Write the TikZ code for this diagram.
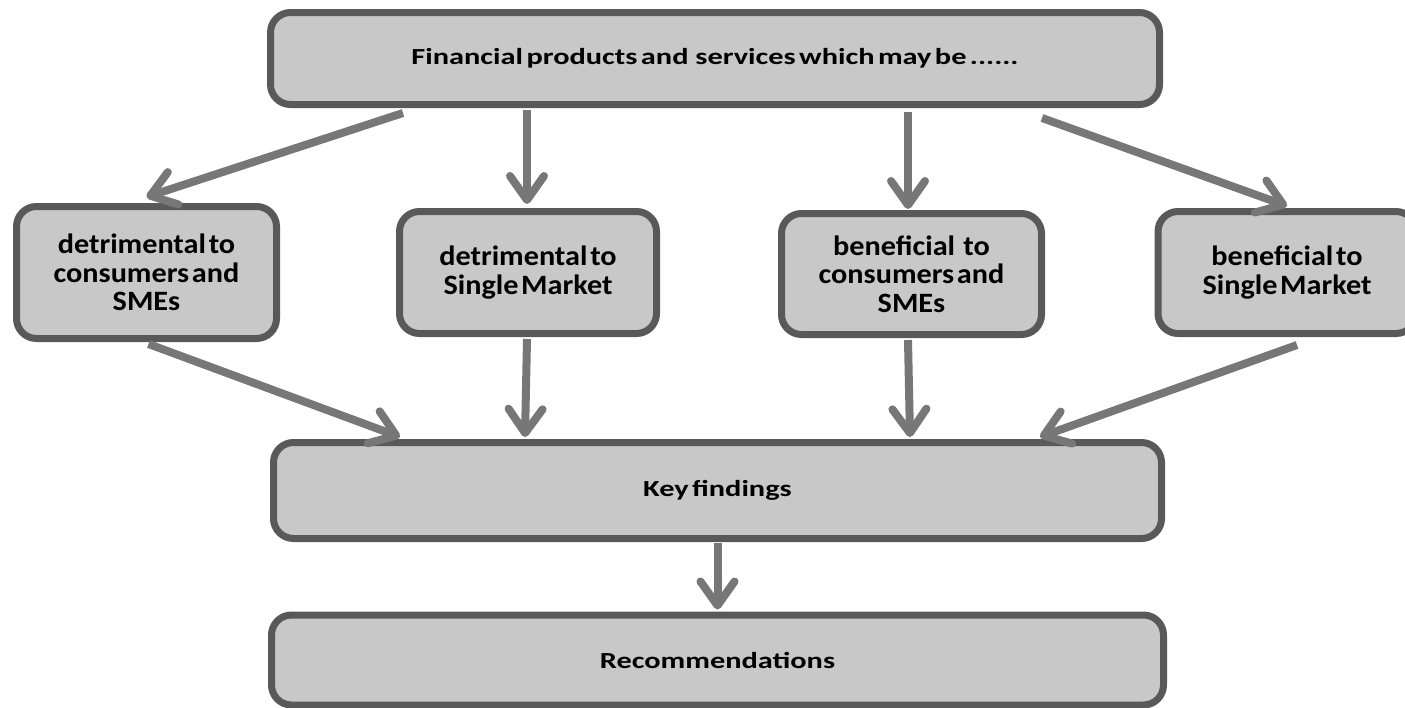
\documentclass[tikz,border=0pt]{standalone}
\usepackage{fontspec}
\setmainfont{Carlito}
\newfontfamily\headfont{Carlito}[FakeStretch=1.32,WordSpace=0.5]
\newfontfamily\boxfont{Carlito}[FakeStretch=1.08,WordSpace=0.4]
\usetikzlibrary{arrows.meta,calc}
\definecolor{boxfill}{HTML}{C8C8C8}
\definecolor{boxline}{HTML}{595959}
\definecolor{arrowgray}{HTML}{777777}
\begin{document}
\begin{tikzpicture}[x=1pt,y=-1pt,
  panel/.style={draw=boxline,fill=boxfill,line width=7pt,rounded corners=20pt,
    inner sep=0pt,align=center},
  wide/.style={panel,font=\headfont\bfseries\fontsize{23}{28}\selectfont},
  small/.style={panel,font=\boxfont\bfseries\fontsize{28}{28.5}\selectfont},
  flow/.style={draw=arrowgray,line width=8pt,
    -{Straight Barb[round,length=24pt,width=34pt]}}]
\useasboundingbox (0,0) rectangle (1405,707);

% boxes
\node[wide,minimum width=889pt,minimum height=92pt] (top) at (715,58.5)
  {Financial products and~ services which may be ......};
\node[small,minimum width=260pt,minimum height=132pt] (b1) at (146.5,272.5)
  {detrimental to\\consumers and\\SMEs};
\node[small,minimum width=257pt,minimum height=122pt] (b2) at (528,272.5)
  {detrimental to\\Single Market};
\node[small,minimum width=260pt,minimum height=121pt] (b3) at (911.5,274)
  {beneficial~~ to\\consumers and\\SMEs};
\node[small,minimum width=258pt,minimum height=122pt] (b4) at (1287,272.5)
  {beneficial to\\Single Market};
\node[wide,minimum width=888pt,minimum height=96pt] (key) at (717.5,490.5)
  {Key findings};
\node[wide,minimum width=892pt,minimum height=90pt] (rec) at (717.5,660)
  {Recommendations};

% connectors from the top box
\draw[flow] ([xshift=136pt,yshift=-5pt]top.south west) -- ([xshift=0pt,yshift=6pt]b1.north);
\draw[flow] ([xshift=260pt,yshift=-2pt]top.south west) -- ([xshift=-1pt,yshift=4pt]b2.north);
\draw[flow] ([xshift=641pt,yshift=-4pt]top.south west) -- ([xshift=-3.5pt,yshift=1pt]b3.north);
\draw[flow] ([xshift=775pt,yshift=-10pt]top.south west) -- ([xshift=0pt,yshift=2pt]b4.north);

% connectors into the key findings box
\draw[flow] ([xshift=2pt,yshift=-2pt]b1.south) -- ([xshift=130pt,yshift=2pt]key.north west);
\draw[flow] ([xshift=-1pt,yshift=-2pt]b2.south) -- ([xshift=255pt,yshift=2pt]key.north west);
\draw[flow] ([xshift=-3.5pt,yshift=-2pt]b3.south) -- ([xshift=640pt,yshift=2pt]key.north west);
\draw[flow] ([xshift=10pt,yshift=-8pt]b4.south) -- ([xshift=770pt,yshift=2pt]key.north west);

% key findings to recommendations
\draw[flow] ([yshift=-1pt]key.south) -- ([yshift=2pt]rec.north);
\end{tikzpicture}
\end{document}
